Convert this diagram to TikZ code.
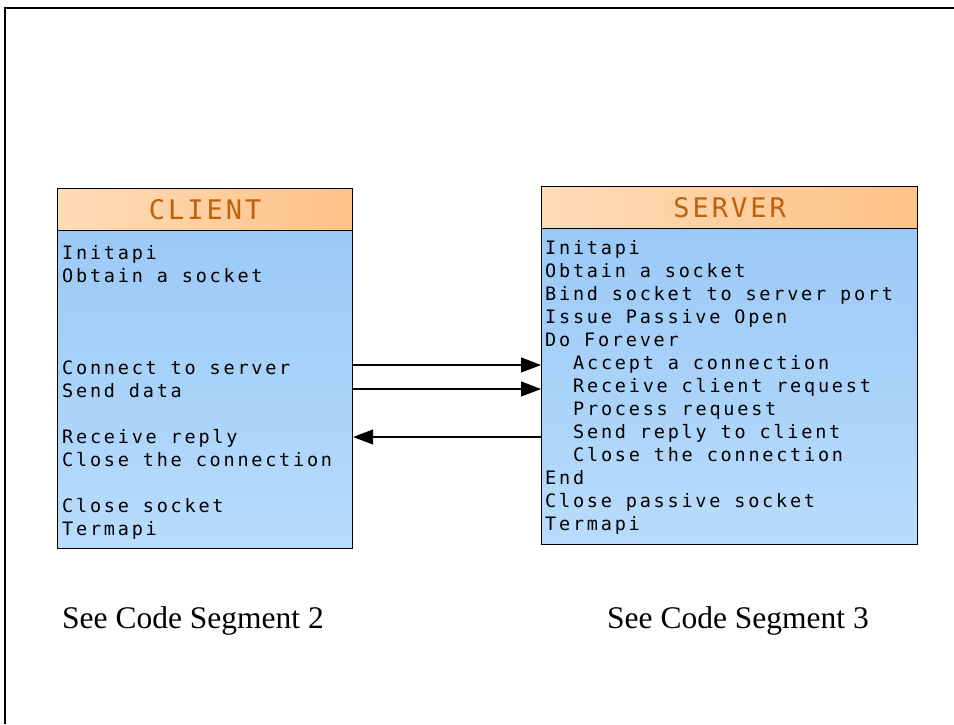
\documentclass[tikz,border=0pt]{standalone}
\usepackage{fontspec}
\setmainfont{Liberation Serif}
\newfontfamily\boxfont{DejaVu Sans Mono}[LetterSpace=15]
\newfontfamily\titlefont{DejaVu Sans Mono}[LetterSpace=11]
\usetikzlibrary{arrows.meta}
\definecolor{hdleft}{HTML}{FFDCB8}
\definecolor{hdright}{HTML}{FDC286}
\definecolor{bdtop}{HTML}{9BC9F6}
\definecolor{bdbot}{HTML}{B8DCFD}
\definecolor{titlecol}{HTML}{C0600A}
\tikzset{
  header/.style={draw=black, line width=1.2pt, left color=hdleft, right color=hdright, inner sep=0pt, anchor=north west},
  body/.style={draw=black, line width=1.2pt, top color=bdtop, bottom color=bdbot, inner sep=0pt, anchor=north west},
  title/.style={font=\titlefont\fontsize{27}{27}\selectfont, text=titlecol},
  line/.style={font=\boxfont\fontsize{18.5}{18.5}\selectfont, anchor=base west, inner sep=0pt},
  caption/.style={font=\fontsize{31.5}{31.5}\selectfont, anchor=base west, inner sep=0pt},
  arr/.style={line width=1.2pt, -{Triangle[length=20pt,width=15pt]}}
}
\begin{document}
\begin{tikzpicture}[x=1pt,y=-1pt]
\useasboundingbox (0,0) rectangle (954,724);
\draw[line width=1.6pt] (5,724) -- (5,8) -- (954,8);
% client
\node[body, minimum width=295pt, minimum height=318pt] (clientbody) at (57,230) {};
\node[header, minimum width=295pt, minimum height=42pt] (clienthead) at (57,188) {};
\node[title] (clienttitle) at (clienthead.center) {CLIENT};
\node[line] (c0) at (62,259) {Initapi};
\node[line] (c1) at (62,282) {Obtain a socket};
\node[line] (c5) at (62,374) {Connect to server};
\node[line] (c6) at (62,397) {Send data};
\node[line] (c8) at (62,443) {Receive reply};
\node[line] (c9) at (62,466) {Close the connection};
\node[line] (c11) at (62,512) {Close socket};
\node[line] (c12) at (62,535) {Termapi};
% server
\node[body, minimum width=376pt, minimum height=316pt] (serverbody) at (541,228) {};
\node[header, minimum width=376pt, minimum height=42pt] (serverhead) at (541,186) {};
\node[title] (servertitle) at (serverhead.center) {SERVER};
\node[line] (s0) at (545,254) {Initapi};
\node[line] (s1) at (545,277) {Obtain a socket};
\node[line] (s2) at (545,300) {Bind socket to server port};
\node[line] (s3) at (545,323) {Issue Passive Open};
\node[line] (s4) at (545,346) {Do Forever};
\node[line] (s5) at (573,369) {Accept a connection};
\node[line] (s6) at (573,392) {Receive client request};
\node[line] (s7) at (573,415) {Process request};
\node[line] (s8) at (573,438) {Send reply to client};
\node[line] (s9) at (573,461) {Close the connection};
\node[line] (s10) at (545,484) {End};
\node[line] (s11) at (545,507) {Close passive socket};
\node[line] (s12) at (545,530) {Termapi};
% arrows
\coordinate (y1) at (0,365);
\coordinate (y2) at (0,389);
\coordinate (y3) at (0,437);
\draw[arr] (clientbody.east |- y1) -- (serverbody.west |- y1);
\draw[arr] (clientbody.east |- y2) -- (serverbody.west |- y2);
\draw[arr] (serverbody.west |- y3) -- (clientbody.east |- y3);
% captions
\node[caption] (cap1) at (62,628) {See Code Segment 2};
\node[caption] (cap2) at (607,628) {See Code Segment 3};
\end{tikzpicture}
\end{document}
